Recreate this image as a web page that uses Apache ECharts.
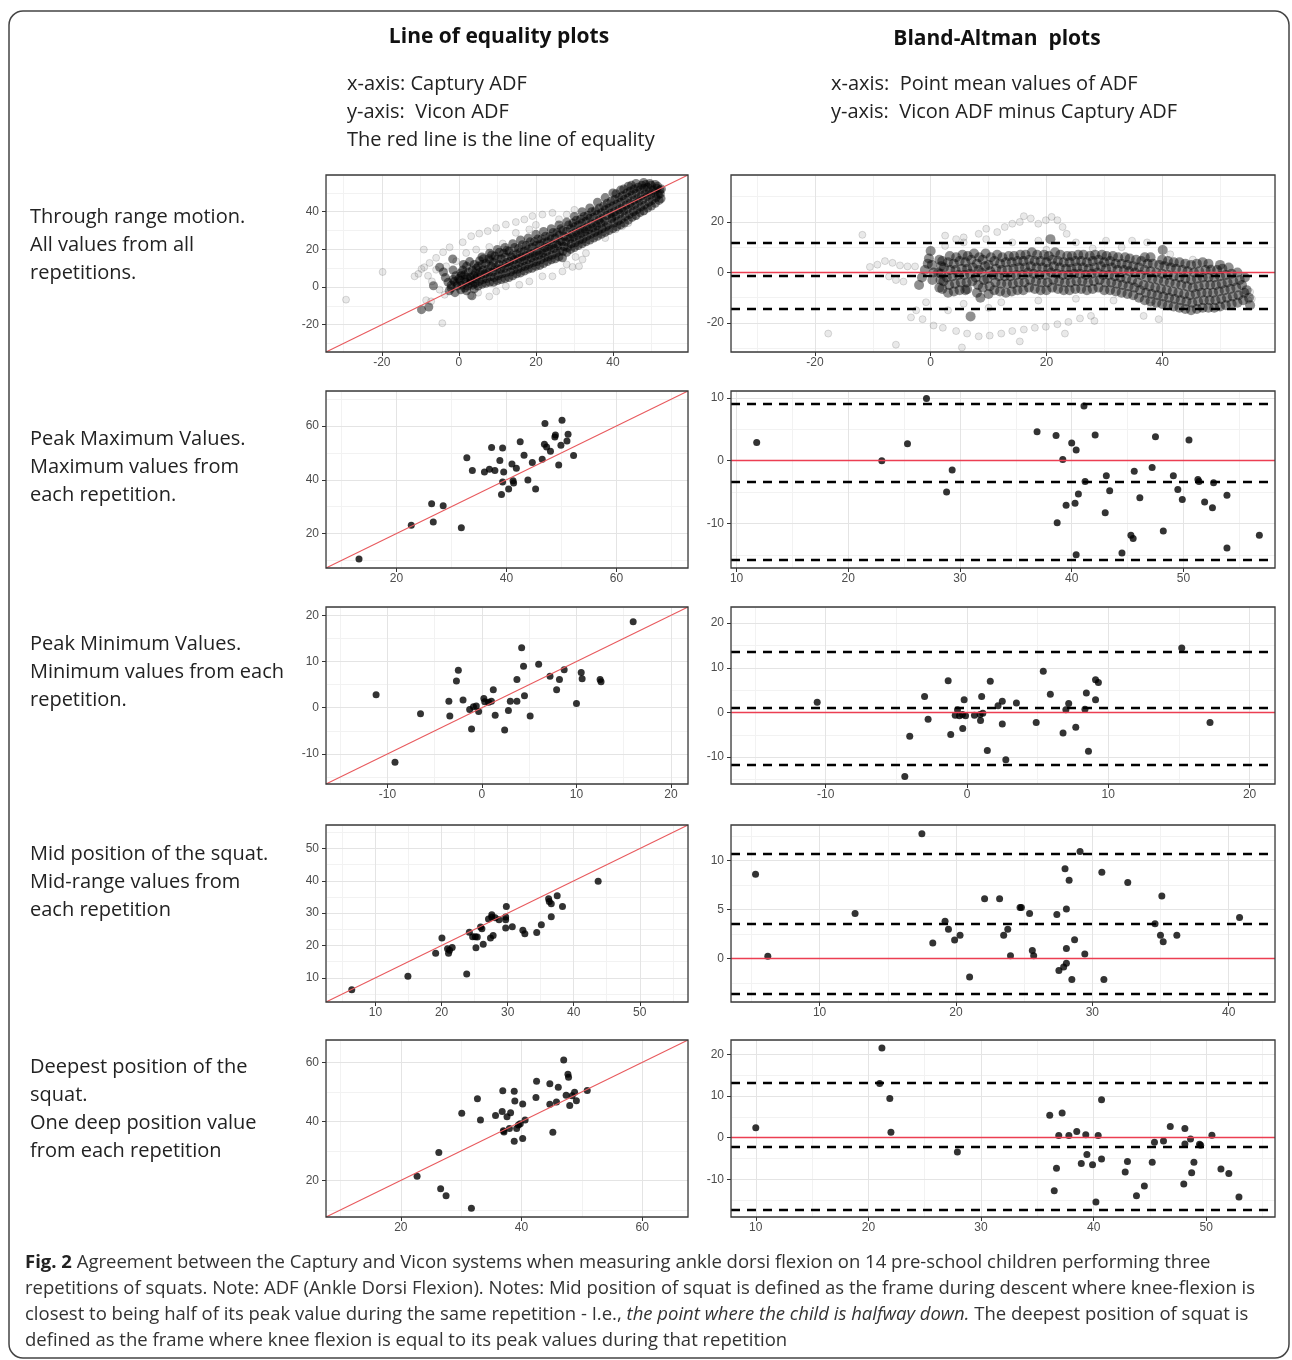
<!DOCTYPE html>
<html>
<head>
<meta charset="utf-8">
<script src="https://cdn.jsdelivr.net/npm/echarts@6/dist/echarts.min.js"></script>
<style>
  html, body { margin: 0; padding: 0; background: #fff; }
  #chart { width: 1292px; height: 1360px; }
</style>
</head>
<body>
<div id="chart"></div>
<script>
// ---- data ----

// row 1: through range motion (dense clouds, hand-read)
const throughLoeDark = [
  [-9.7,-12],[-7.8,-10.6],[-6.6,0.7],[-5,10.5],[-3.5,5],[-4,8],
  [-2.5,-2],[-2,1],[-1.5,4],[-2.8,2.5],
  [-1,-3],[-0.5,0.5],[-1.2,3],[-0.8,6],[-1.5,9],[-1.6,14.9],
  [0.5,-1.5],[0.8,1],[0.3,3.5],[0.6,6],[1,9],[1.2,12],
  [2,-2],[2.3,0.5],[1.8,2.5],[2.2,5],[2.5,8],[2,11],[2.8,13.5],
  [3.4,-4.6],[3.6,1],[3.2,3.5],[3.8,6],[3.5,9],[4,12],
  [5,0.5],[5.3,3],[4.8,5.5],[5.5,8],[5,11],[5.4,14],[6,16],
  [7,2],[7.2,4.5],[6.8,7],[7.5,9.5],[7,12.5],[7.8,15],[8,18],
  [9,2.5],[9.2,5],[8.8,8],[9.5,10.5],[9,13],[9.4,16.5],[10,20],
  [11,4],[11.2,7],[10.8,9.5],[11.5,12],[11,15],[11.6,18],[12,21],
  [13,5],[13.4,8],[12.8,11],[13.2,13.5],[13.6,16],[13,19],[14,23],
  [15,7],[15.3,9.5],[14.8,12],[15.5,15],[15,17.5],[15.5,20.5],[16,25],
  [17,8.5],[17.2,11],[16.8,14],[17.4,16.5],[17,19],[17.5,22],[18,26],
  [19,10],[19.3,13],[18.8,15.5],[19.4,18],[19,21],[19.6,24],[20,28],
  [21,11.5],[21.3,14.5],[20.8,17],[21.5,19.5],[21,22.5],[21.5,25.5],[22,29.5],
  [23,13.5],[23.2,16],[22.8,19],[23.4,21.5],[23,24],[23.6,27],[24,31],
  [25,15],[25.3,18],[24.8,20.5],[25.4,23],[25,26],[25.5,29],[26,33],
  [26.9,15.5],[27,19],[27.3,21.5],[26.8,24],[27.4,27],[27,30],[28,34.5],
  [29,20],[29.2,23],[28.8,25.5],[29.5,28],[29,31],[29.6,34],[30,37.5],
  [31,22],[31.3,25],[30.8,27.5],[31.5,30],[31,33],[31.6,36],[32,40],
  [33,24],[33.2,27],[32.8,29.5],[33.4,32],[33,35],[33.5,38],[34,42],
  [35,26],[35.3,29],[34.8,31.5],[35.5,34],[35,37],[35.5,40.5],[36,45],
  [37,28],[37.2,31],[36.8,34],[37.4,36.5],[37,39.5],[37.6,43],[38,47.5],
  [39,30],[39.7,36.2],[38.8,33],[39.4,39],[39,42],[39.5,45.5],[40,50],
  [41,32],[41.3,35],[40.8,38],[41.5,41],[41,44],[41.6,47.5],[42,51.5],
  [43,34],[43.2,37.5],[42.8,40.5],[43.4,43.5],[43,46.5],[43.6,50],[44,53.5],
  [45,37],[45.3,40],[44.8,43],[45.4,46],[45,49],[45.5,52],[46,55],
  [47,39.5],[47.2,42.5],[46.8,45.5],[47.4,48.5],[47,51.5],[47.5,54],[48,55.5],
  [49,42],[49.3,45],[48.8,48],[49.4,50.5],[49,53],[49.6,55],
  [51,44.5],[51.2,47.5],[50.8,50],[51.4,52.5],[51,54.5],
  [52.5,47],[52.3,49.5],[52.6,52]
];
const throughLoeDark2 = [
  [-2,-0.5],[-0.5,2],[0,4.5],[0.5,7.5],[1.5,-0.5],[1.5,4],[1.5,6.5],[3,2],[3,5],[4,-1],
  [4.2,2],[4.3,4.5],[4.3,7.5],[4.5,10],
  [6,1.5],[6.2,4],[5.8,6.5],[6.3,9],[6,12],[6.4,15],
  [8,2.5],[8.2,5.5],[7.8,8],[8.4,11],[8,14],[8.5,17],
  [10,3.5],[10.2,6],[9.8,9],[10.4,12],[10,15],[10.5,18.5],
  [12,4.5],[12.2,7.5],[11.8,10],[12.4,13],[12,16],[12.5,19.5],
  [14,6],[14.2,9],[13.8,11.5],[14.4,14.5],[14,17],[14.5,21],
  [16,7.5],[16.2,10.5],[15.8,13],[16.4,16],[16,18.5],[16.5,22.5],
  [18,9.5],[18.2,12],[17.8,14.5],[18.4,17.5],[18,20],[18.5,24],
  [20,11],[20.2,13.5],[19.8,16.5],[20.4,19],[20,22],[20.5,25.5],
  [22,12.5],[22.2,15.5],[21.8,18],[22.4,21],[22,23.5],[22.5,27],
  [24,14.5],[24.2,17],[23.8,20],[24.4,22.5],[24,25.5],[24.5,29],
  [26,16],[26.2,19],[25.8,22],[26.4,24.5],[26,27.5],[26.5,31],
  [28,18.5],[28.2,21],[27.8,24],[28.4,26.5],[28,29.5],[28.5,33],
  [30,21],[30.2,23.5],[29.8,26.5],[30.4,29],[30,32],[30.5,35.5],
  [32,23],[32.2,25.5],[31.8,28.5],[32.4,31],[32,34],[32.5,37.5],
  [34,25],[34.2,28],[33.8,30.5],[34.4,33.5],[34,36.5],[34.5,40],
  [36,27],[36.2,30],[35.8,32.5],[36.4,35.5],[36,38.5],[36.5,42],
  [38,29],[38.2,32],[37.8,35],[38.4,38],[38,41],[38.5,44.5],
  [40,31],[40.2,34],[39.8,37],[40.4,40],[40,43],[40.5,46.5],[40.8,49.5],
  [42,33],[42.2,36],[41.8,39],[42.4,42],[42,45],[42.5,48.5],[42.8,52],
  [44,35.5],[44.2,38.5],[43.8,41.5],[44.4,44.5],[44,47.5],[44.5,51],[44.8,54],
  [46,38],[46.2,41],[45.8,44],[46.4,47],[46,50],[46.5,53],
  [48,40.5],[48.2,43.5],[47.8,46.5],[48.4,49.5],[48,52.5],[48.5,54.5],
  [50,43],[50.2,46],[49.8,49],[50.4,51.5],[50,54],
  [52,46],[51.8,49],[52.2,51.5],[51.6,53.5]
];
const throughLoeLight = [
  [-11.5,5.7],[-9.7,9.6],[-7.6,12.8],[-5.9,15.5],[-4.1,18.5],[-2.4,21.1],[1,23.8],[3.2,27],
  [5.3,28.4],[7.5,29.7],[9.7,31.4],[12.2,33.2],[14.8,34.5],[17,35.9],[19.1,37.7],[21.7,38.5],[24.3,39.4],
  [-9.1,19.9],[-19.8,8],[-29.3,-6.7],[-4.3,-19.2],
  [-5.9,9.2],[-3.3,11],[-0.7,13.7],[1.9,18.1],[4.5,19.9],[7.9,21.3],[11.4,23.1],[14.8,28.8],[18.3,30.6],
  [-10.5,7],[-8,6],[-9,10.5],
  [7.9,-5],[9.7,-2.3],[12.2,0.4],[15.7,1.2],[18.3,3],[21.7,5.7],[24.3,5.7],[26.9,8.3],[29.5,10.7],
  [31.2,11],[32.1,14.6],[30.3,16],[36.4,28.8],[40.7,30.6],[42.4,32.3],[45.9,37.7],
  [-5,-1.4],[-3.7,-4.1],[5,-3],[3,-4.5],[28,12],[33,18],[38,26],[44,34],[48,40],
  [26,36],[28,38.5],[30,41],[20,33],[-7,3],[-8.5,-7],[-7.2,-7.6]
];
const throughBaDark = [
  [-1.5,-2],[-1,1],[-0.5,3.5],[-2,-5],
  [0,8.5],[0.3,-3],[0.5,0],[0.2,3],[-0.3,5.5],
  [1.5,-6],[1.7,-3],[1.3,0],[1.8,2.5],[1.5,5],
  [3,-8],[3.2,-5],[2.8,-2],[3.4,1],[3,4],[3.3,6.5],
  [5,-7],[5.2,-4],[4.8,-1],[5.4,1.5],[5,4.5],[5.5,7],
  [6.3,-6.6],[6.9,-17.4],[7.2,-3.5],[6.8,-0.5],[7.3,2],[7,5],[7.5,7.5],
  [8.6,-10],[9,-6],[9.2,-3],[8.8,0],[9.4,2.5],[9,5],[9.5,7.5],
  [11,-7],[11.2,-4],[10.8,-1],[11.3,1.5],[11,4.5],[11.5,7],
  [13,-8],[13.2,-4.5],[12.8,-1.5],[13.3,1],[13,4],[13.5,6.5],
  [15,-7],[15.2,-4],[14.8,-1],[15.3,2],[15,4.5],[15.5,7],
  [17,-6],[17.2,-3],[16.8,0],[17.3,2.5],[17,5],[17.5,8],
  [19,-7],[19.2,-4],[18.8,-1],[19.3,2],[19,4.5],[19.6,7],
  [20.7,13.2],[21,-6],[21.2,-3],[20.8,0],[21.3,2.5],[21,5],[21.5,8],
  [23,-7],[23.2,-4],[22.8,-1],[23.4,1.5],[23,4],[23.6,6.5],
  [25,-6.5],[25.2,-3.5],[24.8,-0.5],[25.3,2],[25,4.5],[25.5,7],
  [27,-7],[27.2,-4],[26.8,-1],[27.3,1.5],[27,4],[27.5,6.5],
  [29,-6],[29.2,-3],[28.8,0],[29.4,2.5],[29,5],[29.6,7],
  [31,-7],[31.2,-4],[30.8,-1],[31.3,2],[31,4.5],[31.5,6.5],
  [33,-8],[33.2,-5],[32.8,-2],[33.4,1],[33,3.5],[33.6,6],
  [35,-9],[35.2,-6],[34.8,-3],[35.3,0],[35,2.5],[35.5,5],
  [37,-11],[37.2,-8],[36.8,-5],[37.3,-2],[37,1],[37.5,3.5],[37,6],
  [39,-12],[39.2,-9],[38.8,-6],[39.3,-3],[39,0],[39.5,3],[40.1,8.9],
  [41,-13],[41.2,-10],[40.8,-7],[41.3,-4],[41,-1],[41.5,2],[41,4.5],
  [43,-14],[43.2,-11],[42.8,-8],[43.3,-5],[43,-2],[43.5,1],[43,4],
  [45,-15],[45.2,-12],[44.8,-9],[45.3,-6],[45,-3],[45.5,0],[45,3],
  [47,-14],[47.2,-11],[46.8,-8],[47.3,-5],[47,-2],[47.5,1],[47,4],
  [49,-14],[49.2,-11],[48.8,-8],[49.3,-5],[49,-2],[49.5,1],[50,3],
  [51,-13],[51.2,-10],[50.8,-7],[51.3,-4],[51,-1],[51.5,2],
  [53,-12],[53.2,-9],[52.8,-6],[53.4,-3],[53,0],
  [55,-10],[54.6,-7],[55.2,-13]
];
const throughBaDark2 = [
  [2,-6.5],[2.2,-3.5],[1.8,-0.5],[2.3,2],[2,4.5],
  [4,-7.5],[4.2,-4.5],[3.8,-1.5],[4.3,1],[4,3.5],[4.4,6],
  [6,-7],[6.2,-4],[5.8,-1],[6.3,1.5],[6,4],[6.4,6.5],
  [8,-8],[8.2,-5],[7.8,-2],[8.3,1],[8,3.5],[8.4,6],
  [10,-8.5],[10.2,-5.5],[9.8,-2.5],[10.3,0.5],[10,3],[10.4,6],
  [12,-7.5],[12.2,-4.5],[11.8,-1.5],[12.3,1],[12,3.5],[12.4,6],
  [14,-7.5],[14.2,-4.5],[13.8,-1.5],[14.3,1.5],[14,4],[14.4,6.5],
  [16,-7],[16.2,-4],[15.8,-1],[16.3,2],[16,4.5],[16.4,7],
  [18,-6.5],[18.2,-3.5],[17.8,-0.5],[18.3,2],[18,4.5],[18.4,7],
  [20,-7],[20.2,-4],[19.8,-1],[20.3,1.5],[20,4],[20.4,6.5],
  [22,-6.5],[22.2,-3.5],[21.8,-0.5],[22.3,2],[22,4.5],[22.4,7],
  [24,-7],[24.2,-4],[23.8,-1],[24.3,1.5],[24,4],[24.4,6.5],
  [26,-6.5],[26.2,-3.5],[25.8,-0.5],[26.3,2],[26,4.5],[26.4,7],
  [28,-6.5],[28.2,-3.5],[27.8,-0.5],[28.3,2],[28,4.5],[28.4,7],
  [30,-7],[30.2,-4],[29.8,-1],[30.3,1.5],[30,4],[30.4,6.5],
  [32,-7.5],[32.2,-4.5],[31.8,-1.5],[32.3,1],[32,3.5],[32.4,6],
  [34,-8.5],[34.2,-5.5],[33.8,-2.5],[34.3,0.5],[34,3],[34.4,5.5],
  [36,-10],[36.2,-7],[35.8,-4],[36.3,-1],[36,2],[36.4,4.5],
  [38,-11.5],[38.2,-8.5],[37.8,-5.5],[38.3,-2.5],[38,0.5],[38.4,3.5],[38,6],
  [40,-12.5],[40.2,-9.5],[39.8,-6.5],[40.3,-3.5],[40,-0.5],[40.4,2.5],[40,5],
  [42,-13.5],[42.2,-10.5],[41.8,-7.5],[42.3,-4.5],[42,-1.5],[42.4,1.5],[42,4],
  [44,-14.5],[44.2,-11.5],[43.8,-8.5],[44.3,-5.5],[44,-2.5],[44.4,0.5],[44,3.5],
  [46,-14.5],[46.2,-11.5],[45.8,-8.5],[46.3,-5.5],[46,-2.5],[46.4,0.5],[46,3.5],
  [48,-14],[48.2,-11],[47.8,-8],[48.3,-5],[48,-2],[48.4,1],[48,3.5],
  [50,-13.5],[50.2,-10.5],[49.8,-7.5],[50.3,-4.5],[50,-1.5],[50.4,1.5],
  [52,-12.5],[52.2,-9.5],[51.8,-6.5],[52.3,-3.5],[52,-0.5],
  [54,-11],[54.2,-8],[53.8,-5],[54.3,-2]
];
const throughBaLight = [
  [16.1,22.3],[17.3,21.4],[18.6,19.3],[19.9,20.7],[20.9,22],[21.9,20.7],[22.8,18],[23.5,15.3],
  [15.4,20],[14.1,19.3],[12.8,18],[11.5,16],[9.6,17.3],[8.3,15.3],[5.7,13.9],[4.4,13.2],[2.5,14.6],
  [-3.4,-17.8],[-1.4,-18.5],[0.5,-21],[2.1,-21.9],[4.4,-23.2],[6.3,-24.2],[8.3,-25.3],[10.2,-25],
  [12.2,-24.2],[14.1,-23.2],[16.1,-22.6],[18,-21.9],[19.9,-21.5],[21.9,-20.5],[23.8,-19.6],
  [25.8,-18.2],[27.7,-17.2],[28.3,-19.2],
  [-17.7,-24.2],[-6,-28.6],[5.4,-29.7],[-11.8,14.9],[15.4,-27.3],[23.2,-24.2],
  [-10.5,2.2],[-9.2,3.1],[-7.9,4.5],[-6.6,3.8],[-5.3,2.8],[-4,2.4],[-2.7,2.4],
  [-7.2,-1.6],[-6,-3],[-4.7,-3.6],
  [2.5,10.5],[5.7,11.9],[9.6,13.2],[14.1,11.9],[18.6,12.6],[25.1,11.9],[30.3,12.6],[34.8,12.6],
  [37.4,11.9],[41.4,7.2],[45.3,5.1],[48.5,1.8],[54.9,-11],[55.2,-7.7],[55.5,-10.4],
  [-0.8,-11.8],[5.7,-12.4],[12.2,-11.8],[18.6,-11.1],[25.1,-10.4],[31.6,-11.1],[38.1,-13.1],
  [36.8,-17.2],[39.4,-18.5],[-2.5,-15],[3,-15],[10,-14],[20,9],[28,9.5],[33,10]
];
const throughBaLines = [11.6, -1.3, -14.3];

// row 2: peak maximum values
const peakMaxLoe = [
  [13.2,10.5],[22.7,23.1],[26.4,31.1],[26.7,24.3],[28.5,30.3],[31.8,22.2],[32.8,48.2],[33.8,43.4],
  [36.0,42.9],[36.9,43.9],[37.3,52.0],[37.9,43.4],[38.8,47.2],[39.3,51.8],[39.5,42.9],[39.3,39.2],
  [39.1,34.5],[40.4,36.6],[41.0,45.9],[41.2,39.6],[41.3,38.8],[41.8,44.3],[42.5,54.1],[43.2,49.1],
  [43.9,39.9],[44.7,46.4],[45.3,36.6],[46.5,47.6],[47.0,60.9],[46.9,53.2],[47.3,52.2],[48.0,50.6],
  [48.8,55.9],[48.9,56.6],[49.5,45.5],[49.9,52.8],[50.1,62.1],[51.0,54.4],[51.2,56.9],[52.2,49.0]
];
const peakMaxBa = [
  [11.8,2.9],[23.0,0.0],[25.3,2.7],[27.0,9.9],[28.8,-5.0],[29.3,-1.5],[36.9,4.6],[38.6,4.0],
  [38.7,-9.9],[39.2,0.2],[39.5,-7.1],[40.0,2.8],[40.3,-6.8],[40.4,1.7],[40.4,-15.0],[40.6,-5.3],
  [41.1,8.7],[41.2,-3.3],[42.1,4.1],[43.1,-2.4],[43.0,-8.3],[43.4,-4.8],[44.5,-14.7],[45.3,-11.9],
  [45.5,-12.4],[45.6,-1.7],[46.1,-5.9],[47.2,-1.1],[47.5,3.8],[48.2,-11.2],[49.1,-2.4],[49.5,-4.6],
  [49.9,-6.2],[50.5,3.3],[51.3,-3.0],[51.4,-3.3],[51.9,-6.6],[52.6,-7.5],[52.7,-3.5],[53.9,-5.5],
  [53.9,-13.9],[56.8,-11.9]
];
const peakMaxBaLines = [9.1, -3.4, -15.8];

// row 3: peak minimum values
const peakMinLoe = [
  [-11.2,2.8],[-9.2,-11.8],[-6.5,-1.3],[-3.5,1.4],[-3.4,-1.8],[-2.7,5.8],[-2.5,8.1],[-2.0,1.7],
  [-1.3,-0.4],[-1.1,-4.6],[-0.9,0.2],[-0.6,0.4],[-0.35,-0.8],[0.2,2.0],[0.3,1.3],[0.7,1.2],
  [1.0,1.4],[1.2,3.9],[1.4,-1.6],[2.4,-4.8],[2.8,-0.6],[3.0,1.4],[3.7,1.4],[3.7,6.1],
  [4.2,13.0],[4.4,9.0],[4.5,2.6],[5.1,-1.8],[6.0,9.4],[7.2,6.8],[7.9,3.9],[8.2,6.1],
  [8.7,8.2],[10.0,0.9],[10.5,7.6],[10.6,6.3],[12.5,6.1],[12.6,5.6],[16.0,18.6]
];
const peakMinBa = [
  [-10.6,2.3],[-4.05,-5.3],[-4.4,-14.3],[-3.0,3.6],[-2.75,-1.5],[-1.33,7.1],[-1.15,-4.9],[-0.83,-0.6],
  [-0.67,0.6],[-0.53,-0.75],[-0.32,-0.45],[-0.3,-3.6],[-0.2,2.85],[-0.1,-0.75],[0.53,-0.6],[0.93,-0.45],
  [0.96,-1.8],[1.04,3.6],[1.12,-0.15],[1.44,-8.5],[1.65,7.0],[2.2,1.5],[2.5,2.5],[2.5,-2.55],
  [2.75,-10.6],[3.5,2.1],[4.9,-2.25],[5.4,9.2],[5.9,4.1],[6.8,-4.6],[7.0,0.6],[7.2,2.0],
  [7.7,-3.3],[8.35,0.7],[8.45,4.35],[8.6,-8.7],[9.1,2.85],[9.1,7.3],[9.3,6.7],[15.2,14.4],[17.2,-2.25]
];
const peakMinBaLines = [13.5, 0.95, -11.6];

// row 4: mid position of the squat
const midLoe = [
  [6.4,6.3],[14.9,10.5],[19.1,17.6],[20.05,22.3],[20.9,19.0],[21.05,17.6],[21.2,18.5],[21.6,19.4],
  [23.8,11.2],[24.2,24.1],[24.7,22.7],[25.1,22.7],[25.2,19.3],[25.4,22.6],[26.3,20.4],[25.9,25.7],
  [26.1,25.2],[27.1,28.2],[27.4,22.3],[27.6,28.8],[27.6,29.5],[27.8,23.1],[28.1,28.6],[28.7,28.0],
  [29.7,28.8],[29.7,28.0],[29.7,25.4],[29.8,32.1],[30.7,25.8],[32.3,24.7],[32.6,23.6],[34.4,24.0],
  [35.1,26.4],[36.2,34.5],[36.3,33.6],[36.6,32.9],[36.6,28.9],[37.5,35.4],[38.3,32.1],[43.7,39.9]
];
const midBa = [
  [5.3,8.6],[6.2,0.24],[12.6,4.6],[17.5,12.7],[18.3,1.6],[19.2,3.8],[19.45,3.0],[19.9,1.9],
  [20.3,2.4],[21.0,-1.86],[22.1,6.1],[23.2,6.1],[23.5,2.4],[23.8,3.0],[24.0,0.3],[24.7,5.2],
  [24.8,5.2],[25.4,4.6],[25.6,0.85],[25.7,0.3],[27.4,4.5],[27.55,-1.2],[27.9,-0.85],[28.0,9.15],
  [28.1,5.05],[28.1,-0.45],[28.1,1.05],[28.3,7.97],[28.5,-2.1],[28.7,1.93],[29.1,10.9],[29.45,0.47],
  [30.7,8.8],[30.85,-2.1],[32.6,7.76],[34.6,3.56],[35.0,2.4],[35.1,6.37],[35.2,1.73],[36.2,2.4],[40.8,4.2]
];
const midBaLines = [10.65, 3.55, -3.55];

// row 5: deepest position of the squat
const deepLoe = [
  [22.7,21.4],[26.3,29.5],[26.6,17.2],[27.5,14.8],[30.1,42.8],[31.7,10.6],[32.7,47.7],[33.2,40.5],
  [35.7,42.0],[36.8,43.4],[36.9,50.4],[37.0,36.8],[37.1,36.4],[37.6,41.6],[38.0,37.6],[38.2,42.9],
  [38.8,33.3],[38.8,50.2],[38.9,46.9],[39.2,37.6],[39.5,38.8],[39.8,39.2],[40.2,45.9],[40.2,34.2],
  [40.6,40.5],[42.4,48.1],[42.5,53.6],[44.7,52.8],[44.7,45.8],[45.2,36.3],[45.8,46.6],[46.1,51.6],
  [47.0,60.8],[47.4,48.9],[47.7,56.0],[47.8,55.0],[48.0,45.4],[48.4,48.7],[48.8,49.9],[49.1,47.0],[50.9,50.5]
];
const deepBa = [
  [10.0,2.4],[21.0,13.0],[21.2,21.5],[21.9,9.4],[22.0,1.3],[27.9,-3.4],[36.1,5.4],[36.5,-12.7],
  [36.7,-7.3],[36.9,0.5],[37.2,5.9],[37.8,0.5],[38.5,1.5],[38.9,-6.2],[39.3,0.7],[39.4,-4.0],
  [39.9,-6.5],[40.2,-15.4],[40.4,0.5],[40.7,9.1],[40.7,-5.1],[42.8,-8.2],[43.0,-5.7],[43.8,-13.9],
  [44.5,-11.6],[45.2,-5.9],[45.4,-1.1],[46.2,-0.8],[46.8,2.7],[48.0,-11.1],[48.1,2.2],[48.1,-1.5],
  [48.6,-0.3],[48.7,-8.4],[48.9,-5.9],[49.4,-1.6],[49.5,-1.8],[50.5,0.6],[51.3,-7.5],[52.0,-8.6],[52.9,-14.2]
];
const deepBaLines = [13.2, -2.1, -17.2];

// axis ranges and tick labels
const throughLoeRange = [-34.5, 59.5];
const throughLoeTicks = [-20, 0, 20, 40];
const throughBaXRange = [-34.5, 59.5];
const throughBaYRange = [-31.5, 38.6];
const throughBaXTicks = [-20, 0, 20, 40];
const throughBaYTicks = [-20, 0, 20];

const peakMaxLoeRange = [7.2, 73];
const peakMaxLoeTicks = [20, 40, 60];
const peakMaxBaXRange = [9.5, 58.2];
const peakMaxBaYRange = [-17.1, 11.1];
const peakMaxBaXTicks = [10, 20, 30, 40, 50];
const peakMaxBaYTicks = [-10, 0, 10];

const peakMinLoeRange = [-16.5, 21.8];
const peakMinLoeTicks = [-10, 0, 10, 20];
const peakMinBaXRange = [-16.7, 21.8];
const peakMinBaYRange = [-16, 23.6];
const peakMinBaXTicks = [-10, 0, 10, 20];
const peakMinBaYTicks = [-10, 0, 10, 20];

const midLoeRange = [2.5, 57.3];
const midLoeTicks = [10, 20, 30, 40, 50];
const midBaXRange = [3.5, 43.4];
const midBaYRange = [-4.4, 13.6];
const midBaXTicks = [10, 20, 30, 40];
const midBaYTicks = [0, 5, 10];

const deepLoeRange = [7.6, 67.6];
const deepLoeTicks = [20, 40, 60];
const deepBaXRange = [7.8, 56.1];
const deepBaYRange = [-19, 23.4];
const deepBaXTicks = [10, 20, 30, 40, 50];
const deepBaYTicks = [-10, 0, 10, 20];

// text
const rowLabels = [
  ['Through range motion.', 'All values from all', 'repetitions.'],
  ['Peak Maximum Values.', 'Maximum values from', 'each repetition.'],
  ['Peak Minimum Values.', 'Minimum values from each', 'repetition.'],
  ['Mid position of the squat.', 'Mid-range values from', 'each repetition'],
  ['Deepest position of the', 'squat.', 'One deep position value', 'from each repetition']
];
const captionLines = [
  '{b|Fig. 2} Agreement between the Captury and Vicon systems when measuring ankle dorsi flexion on 14 pre-school children performing three',
  'repetitions of squats. Note: ADF (Ankle Dorsi Flexion). Notes: Mid position of squat is defined as the frame during descent where knee-flexion is',
  'closest to being half of its peak value during the same repetition - I.e., {i|the point where the child is halfway down.} The deepest position of squat is',
  'defined as the frame where knee flexion is equal to its peak values during that repetition'
];

// ---- layout ----
const rowTops = [175, 391, 607, 825, 1040];
const rowHeight = 177;
const leftCol = { left: 326, width: 362 };
const rightCol = { left: 731, width: 544 };
const rowLabelTops = [217, 439, 644, 854, 1067];

const panels = [
  { col: leftCol, row: 0, kind: 'loe', xr: throughLoeRange, yr: throughLoeRange, xt: throughLoeTicks, yt: throughLoeTicks, dark: [throughLoeDark, throughLoeDark2], light: throughLoeLight, darkSize: 9, darkAlpha: 0.6 },
  { col: rightCol, row: 0, kind: 'ba', xr: throughBaXRange, yr: throughBaYRange, xt: throughBaXTicks, yt: throughBaYTicks, dark: [throughBaDark, throughBaDark2], light: throughBaLight, darkSize: 10, darkAlpha: 0.55, lines: throughBaLines },
  { col: leftCol, row: 1, kind: 'loe', xr: peakMaxLoeRange, yr: peakMaxLoeRange, xt: peakMaxLoeTicks, yt: peakMaxLoeTicks, pts: peakMaxLoe },
  { col: rightCol, row: 1, kind: 'ba', xr: peakMaxBaXRange, yr: peakMaxBaYRange, xt: peakMaxBaXTicks, yt: peakMaxBaYTicks, pts: peakMaxBa, lines: peakMaxBaLines },
  { col: leftCol, row: 2, kind: 'loe', xr: peakMinLoeRange, yr: peakMinLoeRange, xt: peakMinLoeTicks, yt: peakMinLoeTicks, pts: peakMinLoe },
  { col: rightCol, row: 2, kind: 'ba', xr: peakMinBaXRange, yr: peakMinBaYRange, xt: peakMinBaXTicks, yt: peakMinBaYTicks, pts: peakMinBa, lines: peakMinBaLines },
  { col: leftCol, row: 3, kind: 'loe', xr: midLoeRange, yr: midLoeRange, xt: midLoeTicks, yt: midLoeTicks, pts: midLoe },
  { col: rightCol, row: 3, kind: 'ba', xr: midBaXRange, yr: midBaYRange, xt: midBaXTicks, yt: midBaYTicks, pts: midBa, lines: midBaLines },
  { col: leftCol, row: 4, kind: 'loe', xr: deepLoeRange, yr: deepLoeRange, xt: deepLoeTicks, yt: deepLoeTicks, pts: deepLoe },
  { col: rightCol, row: 4, kind: 'ba', xr: deepBaXRange, yr: deepBaYRange, xt: deepBaXTicks, yt: deepBaYTicks, pts: deepBa, lines: deepBaLines }
];

const textFont = "'Open Sans', sans-serif";
const tickFont = "'Liberation Sans', Arial, sans-serif";

function axisPair(gridIndex, range, ticks, isX) {
  const step = ticks[1] - ticks[0];
  const span = range[1] - range[0];
  const base = {
    type: 'value', gridIndex: gridIndex, min: range[0], max: range[1],
    position: isX ? 'bottom' : 'left', axisLine: { show: false, onZero: false }
  };
  const major = Object.assign({}, base, {
    minInterval: step, maxInterval: step, splitNumber: Math.round(span / step), z: 2,
    axisTick: { show: true, length: 4, customValues: ticks, lineStyle: { color: '#333', width: 1 } },
    axisLabel: {
      show: true, customValues: ticks, color: '#4d4d4d', fontSize: 12, fontFamily: tickFont,
      margin: isX ? 5 : 7,
      formatter: v => ticks.some(t => Math.abs(t - v) < 1e-6) ? String(v) : ''
    },
    splitLine: { show: true, lineStyle: { color: '#e4e4e4', width: 1 } }
  });
  const minor = Object.assign({}, base, {
    minInterval: step / 2, maxInterval: step / 2, splitNumber: Math.round(span / step * 2), z: 1,
    axisTick: { show: false }, axisLabel: { show: false },
    splitLine: { show: true, lineStyle: { color: '#f2f2f2', width: 1 } }
  });
  return [major, minor];
}

const grids = [], xAxes = [], yAxes = [], series = [], graphics = [];

panels.forEach((p, i) => {
  const top = rowTops[p.row];
  grids.push({ left: p.col.left, top: top, width: p.col.width, height: rowHeight, show: false });
  const xa = axisPair(i, p.xr, p.xt, true);
  const ya = axisPair(i, p.yr, p.yt, false);
  xAxes.push(xa[0], xa[1]);
  yAxes.push(ya[0], ya[1]);
  const xi = 2 * i, yi = 2 * i;

  if (p.light) {
    series.push({
      type: 'scatter', xAxisIndex: xi, yAxisIndex: yi, data: p.light, symbolSize: 7, silent: true, z: 3,
      itemStyle: { color: 'rgba(130,130,130,0.22)', borderColor: 'rgba(60,60,60,0.28)', borderWidth: 0.8 }
    });
    p.dark.forEach(d => series.push({
      type: 'scatter', xAxisIndex: xi, yAxisIndex: yi, data: d, symbolSize: p.darkSize, silent: true, z: 4,
      itemStyle: { color: 'rgba(0,0,0,' + p.darkAlpha + ')' }
    }));
  }
  const ptsSeries = {
    type: 'scatter', xAxisIndex: xi, yAxisIndex: yi, data: p.pts || [], symbolSize: 7, silent: true, z: 4,
    itemStyle: { color: '#000' }
  };
  if (p.kind === 'ba') {
    const dash = { color: '#000', width: 2.4, type: [9, 7] };
    ptsSeries.markLine = {
      silent: true, symbol: ['none', 'none'], label: { show: false }, animation: false, z: 6,
      data: [
        { yAxis: 0, lineStyle: { color: '#ec3e52', width: 1.4, type: 'solid' } },
        { yAxis: p.lines[0], lineStyle: dash },
        { yAxis: p.lines[1], lineStyle: dash },
        { yAxis: p.lines[2], lineStyle: dash }
      ]
    };
  }
  series.push(ptsSeries);
  if (p.kind === 'loe') {
    series.push({
      type: 'line', xAxisIndex: xi, yAxisIndex: yi, silent: true, z: 6, symbol: 'none',
      data: [[p.xr[0], p.xr[0]], [p.xr[1], p.xr[1]]],
      lineStyle: { color: '#e85a5e', width: 1.1 }
    });
  }
  // panel frame
  graphics.push({
    type: 'rect', z: 100, silent: true,
    shape: { x: p.col.left, y: top, width: p.col.width, height: rowHeight },
    style: { fill: 'none', stroke: '#3a3a3a', lineWidth: 1.3 }
  });
});

// outer rounded border
graphics.push({
  type: 'rect', z: 100, silent: true,
  shape: { x: 9, y: 11, width: 1280, height: 1347, r: 14 },
  style: { fill: 'none', stroke: '#444', lineWidth: 1.5 }
});

// headers
graphics.push(
  { type: 'text', x: 499, y: 37, z: 100, style: { text: 'Line of equality plots', font: 'bold 21px ' + textFont, fill: '#111', textAlign: 'center', textVerticalAlign: 'middle' } },
  { type: 'text', x: 997, y: 39, z: 100, style: { text: 'Bland-Altman  plots', font: 'bold 21px ' + textFont, fill: '#111', textAlign: 'center', textVerticalAlign: 'middle' } }
);
const subLeft = ['x-axis: Captury ADF', 'y-axis:  Vicon ADF', 'The red line is the line of equality'];
const subRight = ['x-axis:  Point mean values of ADF', 'y-axis:  Vicon ADF minus Captury ADF'];
subLeft.forEach((t, k) => graphics.push({ type: 'text', x: 347, y: 84 + k * 28, z: 100, style: { text: t, font: '20px ' + textFont, fill: '#222', textVerticalAlign: 'middle' } }));
subRight.forEach((t, k) => graphics.push({ type: 'text', x: 831, y: 84 + k * 28, z: 100, style: { text: t, font: '20px ' + textFont, fill: '#222', textVerticalAlign: 'middle' } }));

rowLabels.forEach((lines, r) => {
  lines.forEach((t, k) => graphics.push({
    type: 'text', x: 30, y: rowLabelTops[r] + k * 28, z: 100,
    style: { text: t, font: '20px ' + textFont, fill: '#222', textVerticalAlign: 'middle' }
  }));
});

captionLines.forEach((t, k) => graphics.push({
  type: 'text', x: 25, y: 1263 + k * 26, z: 100,
  style: {
    text: t, font: '18.5px ' + textFont, fill: '#333', textVerticalAlign: 'middle',
    rich: {
      b: { font: 'bold 18.5px ' + textFont, fill: '#222' },
      i: { font: 'italic 18.5px ' + textFont, fill: '#333' }
    }
  }
}));

const chart = echarts.init(document.getElementById('chart'), null, { renderer: 'canvas' });
chart.setOption({
  animation: false,
  backgroundColor: '#fff',
  grid: grids,
  xAxis: xAxes,
  yAxis: yAxes,
  series: series,
  graphic: graphics
});
</script>
</body>
</html>
